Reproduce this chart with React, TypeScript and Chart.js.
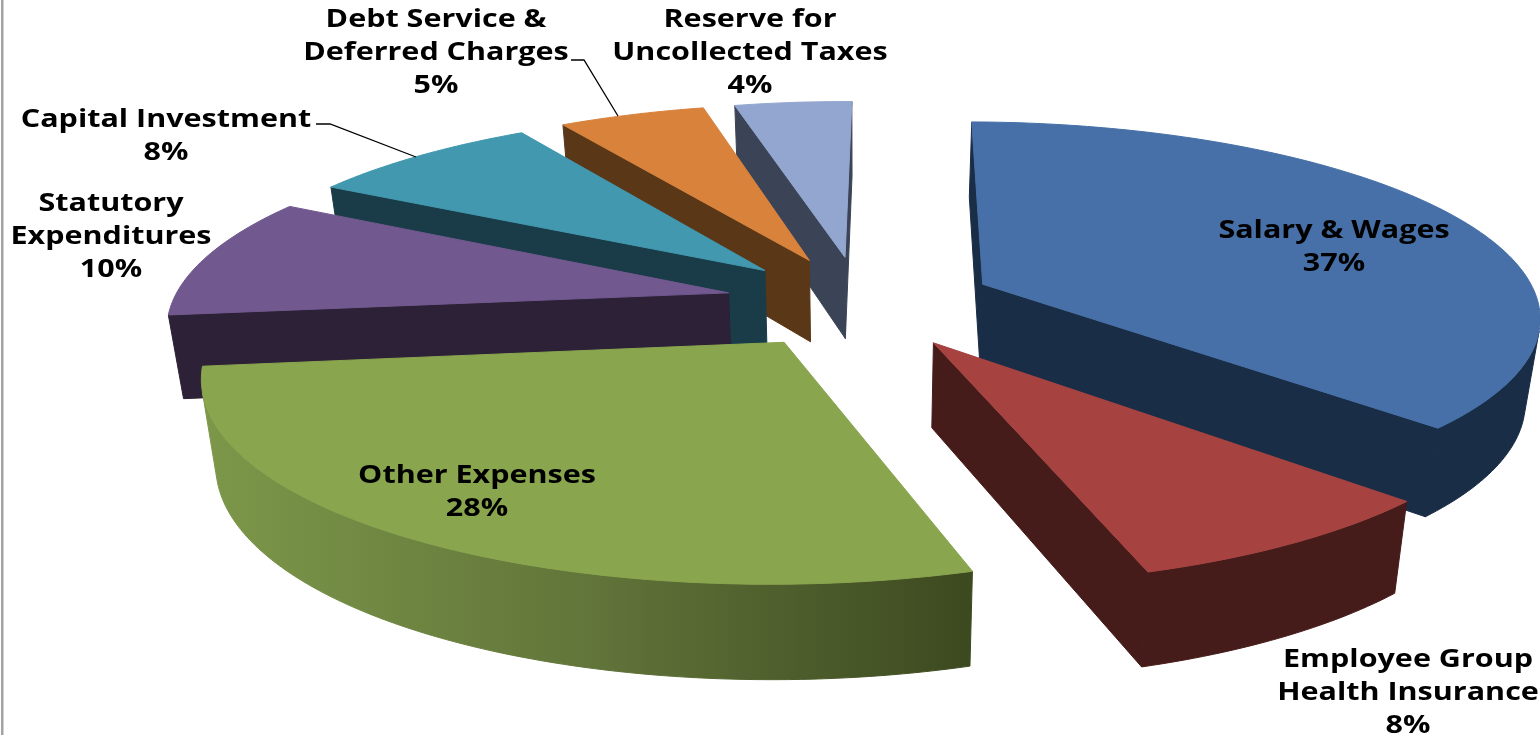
import React, { useEffect, useRef } from "react";
import { Chart, registerables } from "chart.js";

Chart.register(...registerables);

const CATEGORIES = [
  "Salary & Wages",
  "Employee Group Health Insurance",
  "Other Expenses",
  "Statutory Expenditures",
  "Capital Investment",
  "Debt Service & Deferred Charges",
  "Reserve for Uncollected Taxes",
];
const VALUES = [37, 8, 28, 10, 8, 5, 4];
const TOP_COLORS = ["#4670a7", "#a64341", "#89a54e", "#71588f", "#4198af", "#d8823c", "#92a6cf"];
const WALL_COLORS = [
  ["#1a2d47", "#1a2d47"],
  ["#461c1a", "#461c1a"],
  ["#7c9749", "#3d4a20"],
  ["#2c2136", "#2c2136"],
  ["#1a3c48", "#1a3c48"],
  ["#5a3717", "#5a3717"],
  ["#3b4356", "#3b4356"],
];
const LABEL_LINES = [
  ["Salary & Wages"],
  ["Employee Group", "Health Insurance"],
  ["Other Expenses"],
  ["Statutory", "Expenditures"],
  ["Capital Investment"],
  ["Debt Service &", "Deferred Charges"],
  ["Reserve for", "Uncollected Taxes"],
];
// Centre of each label block's first line.
const LABEL_ANCHORS = [
  [1334, 231],
  [1408, 660],
  [477, 476],
  [111, 204],
  [166, 120],
  [436, 20],
  [750, 20],
];
const LEADER_LINES = [
  [[316, 124], [330, 124], [416, 157]],
  [[571, 60], [584, 60], [618, 116]],
];
// Slices are painted back to front.
const PAINT_ORDER = [6, 5, 4, 3, 0, 1, 2];

const TILT = 0.345;
const PERSPECTIVE = 0.000272;
const DEPTH = 85;
const FLOOR_SCALE = 0.978;
const RADIUS = 556;
const EXPLODE = 135;
const ROTATION = 0.6;
const LINE_HEIGHT = 32.8;

type Pt = [number, number];

function project(cx: number, cy: number, px: number, py: number, floor: boolean): Pt {
  const w = (1 / (1 - PERSPECTIVE * py)) * (floor ? FLOOR_SCALE : 1);
  return [cx + px * w, cy + (TILT * py + (floor ? DEPTH : 0)) * w];
}

function shoelace(poly: Pt[]) {
  let s = 0;
  poly.forEach((p, i) => {
    const q = poly[(i + 1) % poly.length];
    s += p[0] * q[1] - q[0] * p[1];
  });
  return s;
}

function fillPoly(ctx: CanvasRenderingContext2D, poly: Pt[], fill: string | CanvasGradient) {
  ctx.beginPath();
  poly.forEach((p, i) => (i ? ctx.lineTo(p[0], p[1]) : ctx.moveTo(p[0], p[1])));
  ctx.closePath();
  ctx.fillStyle = fill;
  ctx.fill();
  ctx.strokeStyle = fill;
  ctx.lineWidth = 1;
  ctx.lineJoin = "round";
  ctx.stroke();
}

const pie3d = {
  id: "pie3d",
  beforeDraw(chart: Chart) {
    const { ctx, width, height } = chart;
    ctx.save();
    ctx.fillStyle = "#ffffff";
    ctx.fillRect(0, 0, width, height);
    ctx.fillStyle = "#a3a3a3";
    ctx.fillRect(1, 0, 2.5, height);
    ctx.restore();
  },
  beforeDatasetDraw(chart: Chart) {
    const { ctx } = chart;
    const arcs = chart.getDatasetMeta(0).data as any[];
    ctx.save();
    PAINT_ORDER.forEach((i) => {
      const arc = arcs[i];
      const { x: cx, y: cy, startAngle, endAngle, outerRadius } = arc;
      const mid = (startAngle + endAngle) / 2;
      const ox = Math.cos(mid) * arc.options.offset;
      const oy = Math.sin(mid) * arc.options.offset;
      const plane: Pt[] = [];
      const steps = Math.max(8, Math.ceil(((endAngle - startAngle) * 180) / Math.PI));
      for (let s = 0; s <= steps; s++) {
        const a = startAngle + ((endAngle - startAngle) * s) / steps;
        plane.push([ox + outerRadius * Math.cos(a), oy + outerRadius * Math.sin(a)]);
      }
      const apex: Pt = [ox, oy];
      const top = (p: Pt) => project(cx, cy, p[0], p[1], false);
      const bot = (p: Pt) => project(cx, cy, p[0], p[1], true);
      const [c0, c1] = WALL_COLORS[i];
      const rimFill = () => {
        if (c0 === c1) return c0;
        const g = ctx.createLinearGradient(208, 0, 963, 0);
        g.addColorStop(0, c0);
        g.addColorStop(0.5, "#62753a");
        g.addColorStop(1, c1);
        return g;
      };

      // Radial walls, kept only when they turn toward the viewer.
      [
        [apex, plane[0]],
        [plane[plane.length - 1], apex],
      ].forEach(([a, b]) => {
        const quad = [top(a), top(b), bot(b), bot(a)];
        if (shoelace(quad) < 0) fillPoly(ctx, quad, c1);
      });

      // Rim: the run of outer segments that face the viewer.
      const upper: Pt[] = [];
      const lower: Pt[] = [];
      for (let s = 0; s < steps; s++) {
        const a = plane[s];
        const b = plane[s + 1];
        if (shoelace([top(a), top(b), bot(b), bot(a)]) < 0) {
          if (!upper.length) {
            upper.push(top(a));
            lower.push(bot(a));
          }
          upper.push(top(b));
          lower.push(bot(b));
        }
      }
      if (upper.length) {
        fillPoly(ctx, upper.concat(lower.slice().reverse()), rimFill());
      }

      fillPoly(ctx, [apex, ...plane].map(top), arc.options.backgroundColor);
    });
    ctx.restore();
    return false;
  },
  afterDatasetsDraw(chart: Chart) {
    const { ctx } = chart;
    ctx.save();
    ctx.strokeStyle = "#000000";
    ctx.lineWidth = 1.3;
    LEADER_LINES.forEach((line) => {
      ctx.beginPath();
      line.forEach((p, i) => (i ? ctx.lineTo(p[0], p[1]) : ctx.moveTo(p[0], p[1])));
      ctx.stroke();
    });
    ctx.fillStyle = "#000000";
    ctx.font = 'bold 25px "Open Sans"';
    ctx.textAlign = "center";
    ctx.textBaseline = "middle";
    LABEL_LINES.forEach((lines, i) => {
      const [x, y] = LABEL_ANCHORS[i];
      [...lines, `${VALUES[i]}%`].forEach((text, n) => {
        ctx.save();
        ctx.translate(x, y + n * LINE_HEIGHT);
        ctx.scale(1.22, 1);
        ctx.fillText(text, 0, 0);
        ctx.restore();
      });
    });
    ctx.restore();
  },
};

export default function App() {
  const ref = useRef<HTMLCanvasElement>(null);
  useEffect(() => {
    const chart = new Chart(ref.current!, {
      type: "pie",
      data: {
        labels: CATEGORIES,
        datasets: [
          {
            data: VALUES,
            backgroundColor: TOP_COLORS,
            offset: EXPLODE,
            borderWidth: 0,
          },
        ],
      },
      options: {
        animation: false,
        responsive: false,
        radius: RADIUS,
        rotation: ROTATION,
        layout: { padding: { left: 180, bottom: 131 } },
        plugins: { legend: { display: false }, tooltip: { enabled: false } },
      } as any,
      plugins: [pie3d as any],
    });
    return () => chart.destroy();
  }, []);
  return (
    <canvas
      ref={ref}
      width={1540}
      height={735}
      style={{ position: "absolute", left: 0, top: 0, display: "block" }}
    />
  );
}
